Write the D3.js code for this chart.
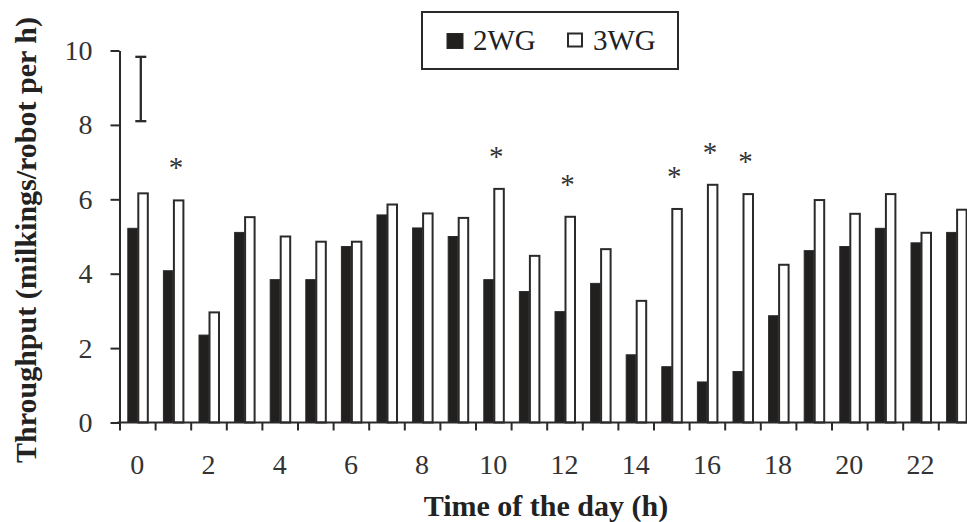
<!DOCTYPE html>
<html>
<head>
<meta charset="utf-8">
<script src="https://cdn.jsdelivr.net/npm/d3@7"></script>
<style>
  html, body { margin: 0; padding: 0; background: #fff; }
  svg { display: block; }
</style>
</head>
<body>
<svg id="chart" width="967" height="522"></svg>
<script>
// ---- data ----
const hours = d3.range(0, 24);
const seriesNames = ["2WG", "3WG"];
const values2WG = [5.22, 4.08, 2.35, 5.11, 3.84, 3.84, 4.73, 5.58, 5.23, 5.00, 3.84, 3.52,
                   2.98, 3.74, 1.82, 1.50, 1.09, 1.37, 2.87, 4.62, 4.73, 5.22, 4.83, 5.11];
const values3WG = [6.16, 5.97, 2.96, 5.52, 5.00, 4.86, 4.86, 5.86, 5.62, 5.50, 6.28, 4.48,
                   5.53, 4.66, 3.27, 5.74, 6.39, 6.14, 4.24, 5.98, 5.61, 6.14, 5.10, 5.72];
const starHours = [1, 10, 12, 15, 16, 17];
const errorBar = { hour: 0, low: 8.1, high: 9.83 };
const yTicks = [0, 2, 4, 6, 8, 10];
const xLabelHours = hours.filter(h => h % 2 === 0);
const xTitle = "Time of the day (h)";
const yTitle = "Throughput (milkings/robot per h)";

// ---- layout ----
const svg = d3.select("#chart");
const X0 = 119.5, XSTEP = 35.6;
const X1 = X0 + XSTEP * hours.length;
const Y0 = 422.5, Y10 = 50.5;
const serif = "'Liberation Serif', 'Times New Roman', serif";
const dark = "#2a2a2a";

const x = d3.scaleBand().domain(hours).range([X0, X1]).paddingInner(0.41).paddingOuter(0.205);
const xs = d3.scaleBand().domain(seriesNames).range([0, x.bandwidth()]);
const xBound = d3.scaleLinear().domain([0, hours.length]).range([X0, X1]);
const y = d3.scaleLinear().domain([0, 10]).range([Y0, Y10]);

const rows = hours.map((h, i) => ({ hour: h, "2WG": values2WG[i], "3WG": values3WG[i] }));

// bars
const g = svg.append("g");
const groups = g.selectAll("g.hour").data(rows).join("g")
  .attr("transform", d => `translate(${x(d.hour)},0)`);
groups.selectAll("rect").data(d => seriesNames.map(s => ({ s, v: d[s] }))).join("rect")
  .attr("x", d => xs(d.s) + 1)
  .attr("width", xs.bandwidth() - 1)
  .attr("y", d => y(d.v))
  .attr("height", d => Y0 - y(d.v))
  .attr("fill", d => d.s === "2WG" ? "#221f1f" : "#ffffff")
  .attr("stroke", dark)
  .attr("stroke-width", d => d.s === "2WG" ? 1 : 2);

// asterisks
const rowByHour = new Map(rows.map(r => [r.hour, r]));
svg.append("g").selectAll("text").data(starHours).join("text")
  .attr("x", h => x(h) + x.bandwidth() / 2 + 3)
  .attr("y", h => y(rowByHour.get(h)["3WG"]) - 23)
  .attr("text-anchor", "middle")
  .attr("font-family", serif)
  .attr("font-size", 29)
  .attr("fill", "#333")
  .text("*");

// error bar
const ex = x(errorBar.hour) + x.bandwidth() / 2 + 3.5;
const eg = svg.append("g").attr("stroke", dark).attr("stroke-width", 2.3).attr("fill", "none");
eg.append("line").attr("x1", ex).attr("x2", ex).attr("y1", y(errorBar.high)).attr("y2", y(errorBar.low));
eg.append("line").attr("x1", ex - 5.5).attr("x2", ex + 5.5).attr("y1", y(errorBar.high)).attr("y2", y(errorBar.high));
eg.append("line").attr("x1", ex - 5.5).attr("x2", ex + 5.5).attr("y1", y(errorBar.low)).attr("y2", y(errorBar.low));

// y axis
const yAxis = svg.append("g").attr("transform", `translate(${X0},0)`)
  .call(d3.axisLeft(y).tickValues(yTicks).tickSize(9).tickPadding(18).tickSizeOuter(0));
yAxis.select(".domain").attr("stroke", dark).attr("stroke-width", 2);
yAxis.selectAll(".tick line").attr("stroke", dark).attr("stroke-width", 2);
yAxis.selectAll(".tick text").attr("font-family", serif).attr("font-size", 28).attr("fill", "#333");

// x axis: boundary ticks
const xAxisB = svg.append("g").attr("transform", `translate(0,${Y0})`)
  .call(d3.axisBottom(xBound).tickValues(d3.range(0, hours.length + 1)).tickFormat("").tickSize(8).tickSizeOuter(0));
xAxisB.select(".domain").attr("stroke", dark).attr("stroke-width", 2).attr("d", `M${X0 - 2},0H${X1}`);
xAxisB.selectAll(".tick line").attr("stroke", dark).attr("stroke-width", 2);

// x axis labels (centered on categories)
const xAxisL = svg.append("g").attr("transform", `translate(0,${Y0})`)
  .call(d3.axisBottom(x).tickValues(xLabelHours).tickSize(0).tickPadding(32));
xAxisL.select(".domain").remove();
xAxisL.selectAll(".tick text").attr("font-family", serif).attr("font-size", 28).attr("fill", "#333");

// axis titles
svg.append("text")
  .attr("x", 546).attr("y", 516)
  .attr("text-anchor", "middle")
  .attr("font-family", serif).attr("font-weight", "bold").attr("font-size", 30)
  .attr("fill", "#222")
  .text(xTitle);
svg.append("text")
  .attr("transform", "translate(36,240) rotate(-90)")
  .attr("text-anchor", "middle")
  .attr("font-family", serif).attr("font-weight", "bold").attr("font-size", 30)
  .attr("fill", "#222")
  .text(yTitle);

// legend
const lg = svg.append("g").attr("transform", "translate(422,12)");
lg.append("rect").attr("x", 0).attr("y", 0).attr("width", 256).attr("height", 57)
  .attr("fill", "#fff").attr("stroke", dark).attr("stroke-width", 2);
const legendOffsets = [25, 145];
const items = lg.selectAll("g.item").data(seriesNames).join("g")
  .attr("transform", (d, i) => `translate(${legendOffsets[i]},0)`);
items.append("rect")
  .attr("x", d => d === "2WG" ? 0 : 1).attr("y", 21.5)
  .attr("width", d => d === "2WG" ? 16 : 14).attr("height", d => d === "2WG" ? 15 : 13)
  .attr("fill", d => d === "2WG" ? "#221f1f" : "#fff")
  .attr("stroke", dark).attr("stroke-width", d => d === "2WG" ? 1 : 2);
items.append("text")
  .attr("x", 26).attr("y", 38)
  .attr("font-family", serif).attr("font-size", 29).attr("fill", "#222")
  .text(d => d);
</script>
</body>
</html>
